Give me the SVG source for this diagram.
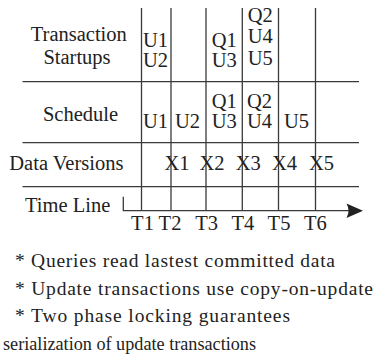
<svg xmlns="http://www.w3.org/2000/svg" width="376" height="362" viewBox="0 0 376 362" font-family="'Liberation Serif', 'DejaVu Serif', serif">
<style>
text{font-family:'Liberation Serif','DejaVu Serif',serif;fill:#222}
.t{font-size:20.5px}
.m{text-anchor:middle}
.b{font-size:19.5px}
.ln{stroke:#3a3a3a;stroke-width:1.3;fill:none}
</style>
<rect width="376" height="362" fill="#fff"/>
<g id="connectors">
<line class="ln" x1="22.5" y1="81.7" x2="359" y2="81.7"/>
<line class="ln" x1="22.5" y1="142.7" x2="359" y2="142.7"/>
<line class="ln" x1="22.5" y1="186.7" x2="359" y2="186.7"/>
<line class="ln" x1="141.5" y1="8" x2="141.5" y2="210.7"/>
<line class="ln" x1="171" y1="8" x2="171" y2="210.7"/>
<line class="ln" x1="206" y1="8" x2="206" y2="210.7"/>
<line class="ln" x1="242.3" y1="8" x2="242.3" y2="210.7"/>
<line class="ln" x1="278.5" y1="8" x2="278.5" y2="210.7"/>
<line class="ln" x1="315.5" y1="8" x2="315.5" y2="210.7"/>
<path class="ln" d="M123.3,196.7 V210.7 H350"/>
<path d="M363,210.7 L346.5,203.5 Q350.5,210.7 346.5,217.9 Z" fill="#222"/>
</g>
<g id="row-startups">
<text class="t m" x="78.8" y="40.7">Transaction</text>
<text class="t m" x="77" y="63.5">Startups</text>
<text class="t m" x="155.5" y="46.5">U1</text>
<text class="t m" x="155.5" y="66.5">U2</text>
<text class="t m" x="224.3" y="46.5">Q1</text>
<text class="t m" x="224.3" y="66.5">U3</text>
<text class="t m" x="260.3" y="21.5">Q2</text>
<text class="t m" x="260.3" y="43.3">U4</text>
<text class="t m" x="260.3" y="65.2">U5</text>
</g>
<g id="row-schedule">
<text class="t m" x="80.5" y="121">Schedule</text>
<text class="t m" x="155.5" y="128">U1</text>
<text class="t m" x="187.5" y="128">U2</text>
<text class="t m" x="224.3" y="108">Q1</text>
<text class="t m" x="224.3" y="128">U3</text>
<text class="t m" x="259.5" y="108">Q2</text>
<text class="t m" x="259.5" y="128">U4</text>
<text class="t m" x="296.5" y="128">U5</text>
</g>
<g id="row-versions">
<text class="t" x="9.3" y="170">Data Versions</text>
<text class="t" x="164.5" y="170">X1</text>
<text class="t" x="199.5" y="170">X2</text>
<text class="t" x="235.8" y="170">X3</text>
<text class="t" x="272" y="170">X4</text>
<text class="t" x="309" y="170">X5</text>
</g>
<g id="row-timeline">
<text class="t" x="25" y="212">Time Line</text>
<text class="t m" x="142.5" y="230">T1</text>
<text class="t m" x="170" y="230">T2</text>
<text class="t m" x="206.7" y="230">T3</text>
<text class="t m" x="242.8" y="230">T4</text>
<text class="t m" x="279" y="230">T5</text>
<text class="t m" x="315.3" y="230">T6</text>
</g>
<g id="notes">
<text class="b" x="15" y="267" textLength="320">* Queries read lastest committed data</text>
<text class="b" x="15" y="295" textLength="358">* Update transactions use copy-on-update</text>
<text class="b" x="15" y="322" textLength="275">* Two phase locking guarantees</text>
<text class="b" x="3" y="350" textLength="253" lengthAdjust="spacingAndGlyphs">serialization of update transactions</text>
</g>
</svg>
